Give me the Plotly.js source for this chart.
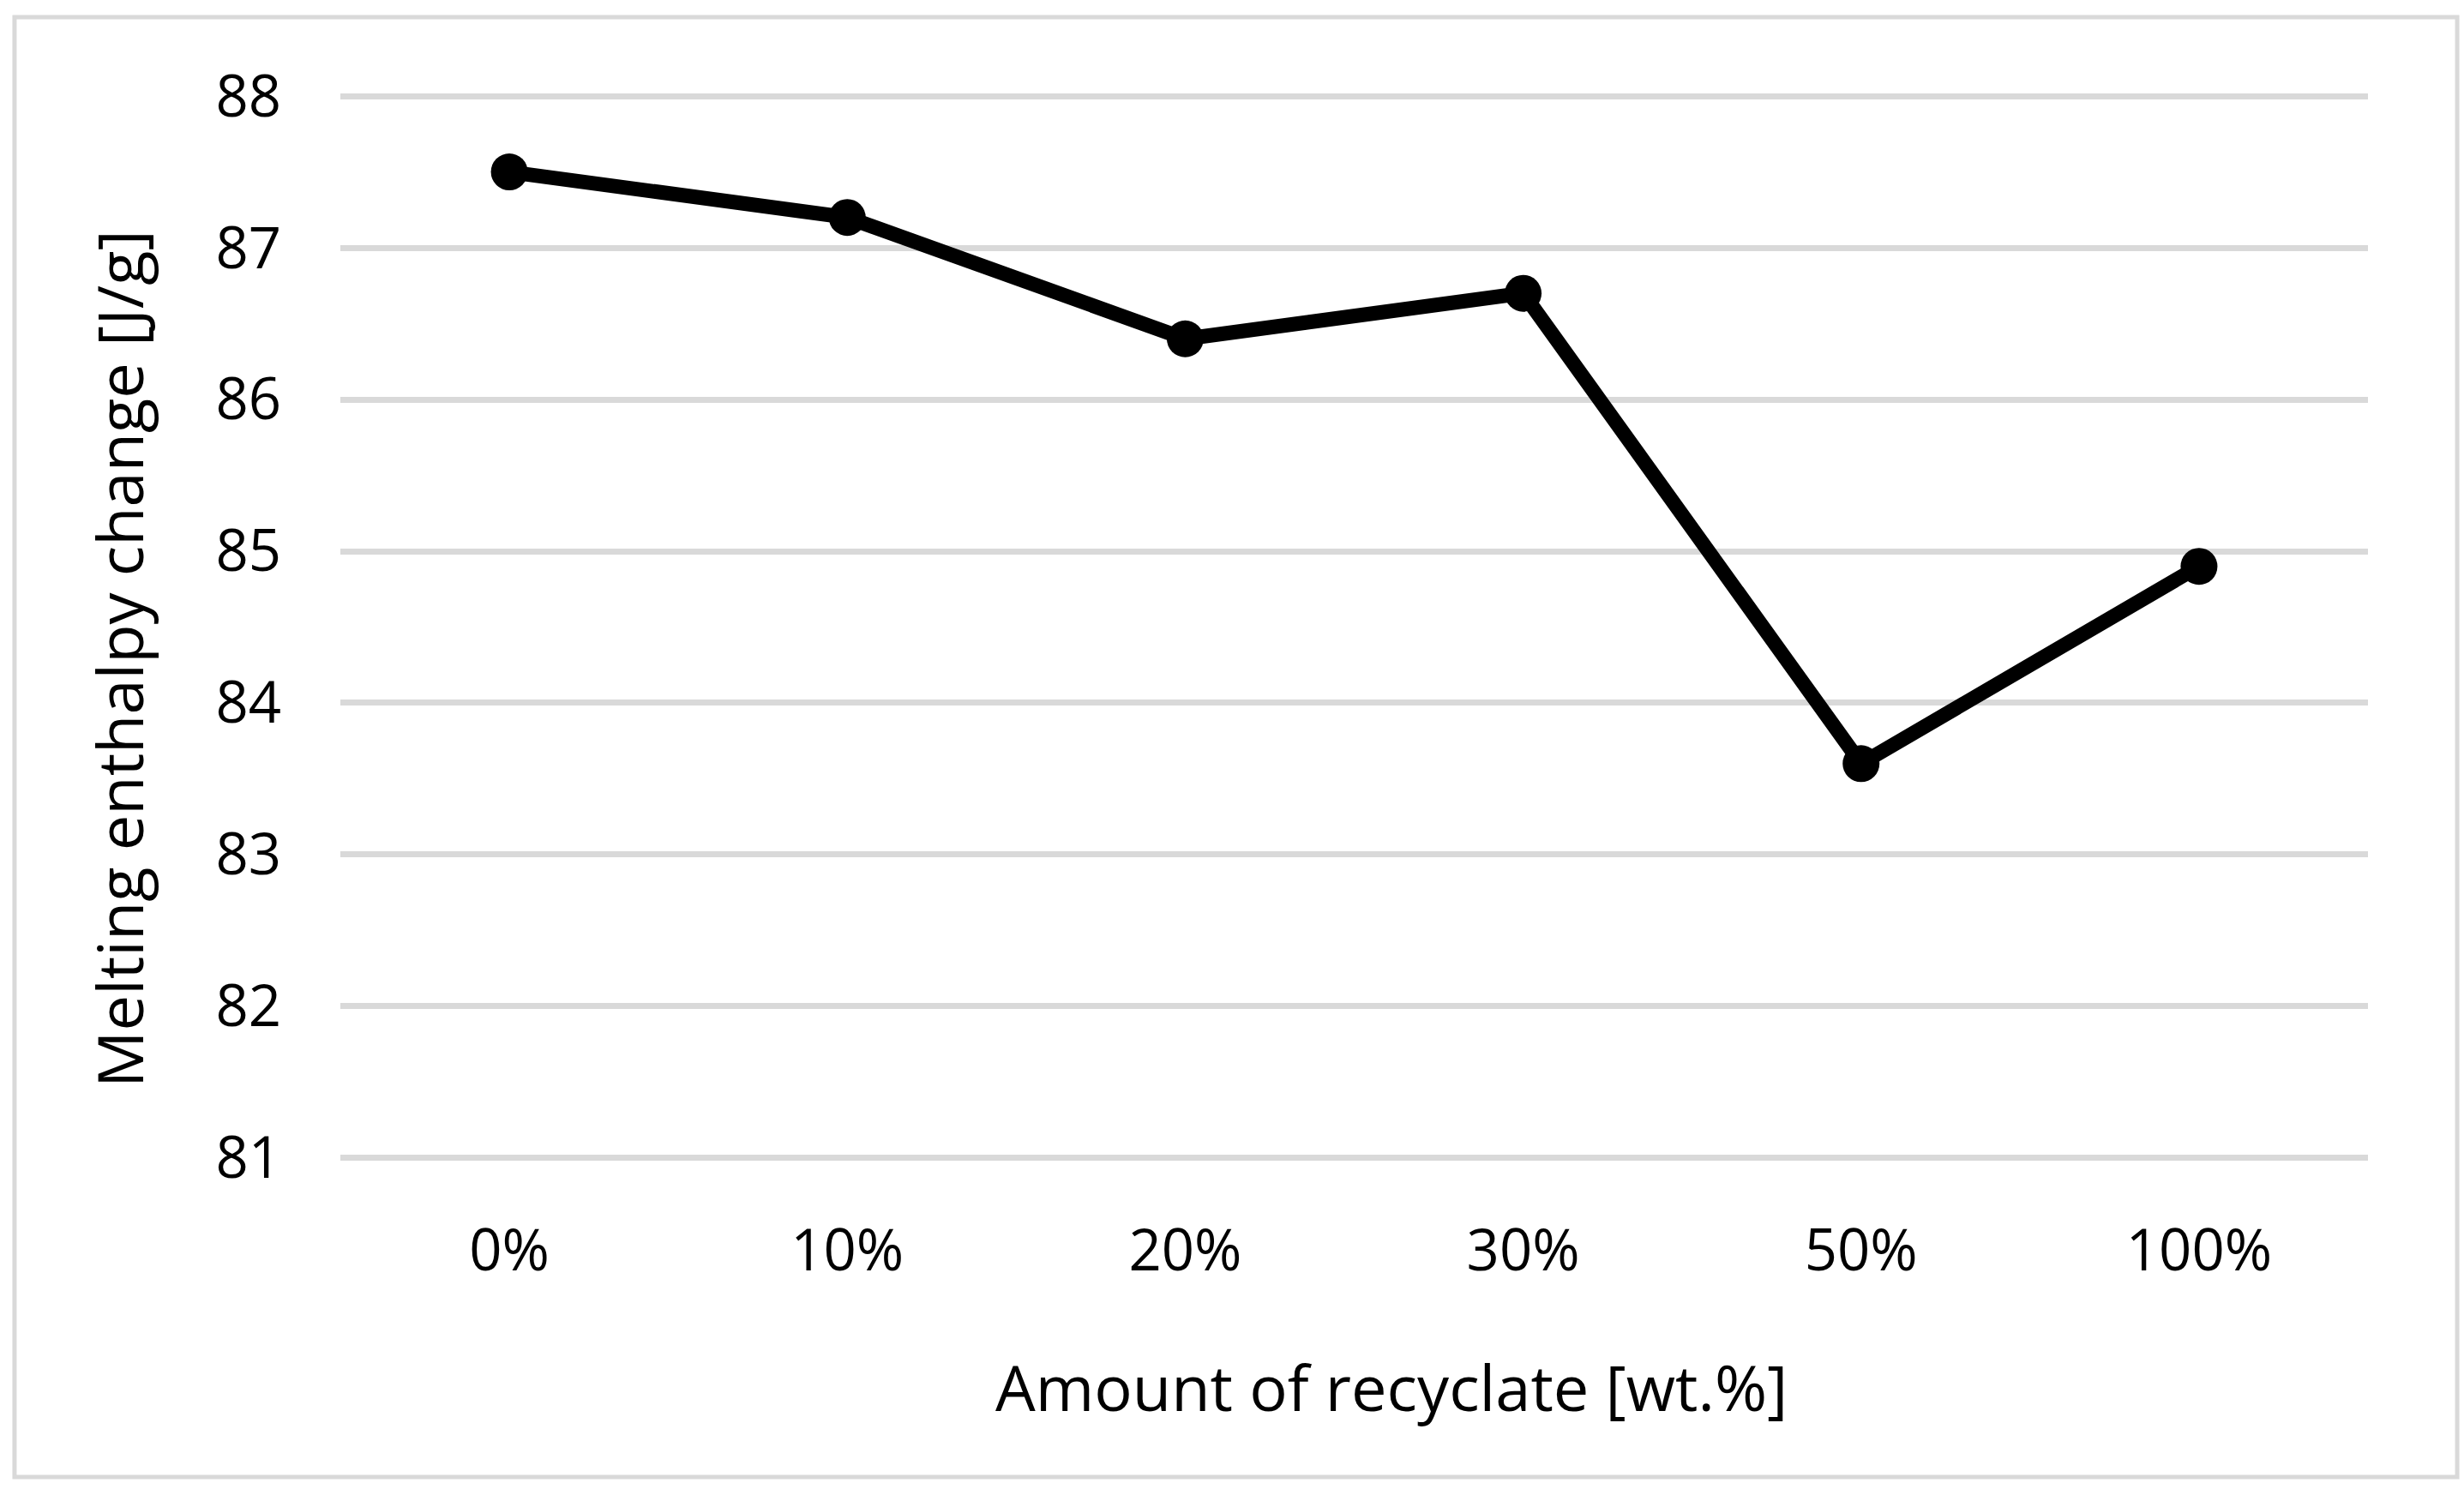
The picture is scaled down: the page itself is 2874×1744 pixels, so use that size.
<!DOCTYPE html>
<html>
<head>
<meta charset="utf-8">
<script src="https://cdn.plot.ly/plotly-3.0.1.min.js"></script>
<style>
  html, body { margin: 0; padding: 0; background: #fff; }
  #chart { width: 2874px; height: 1744px; }
</style>
</head>
<body>
<div id="chart"></div>
<script>
const categories = ["0%", "10%", "20%", "30%", "50%", "100%"];
const enthalpy = [87.5, 87.2, 86.4, 86.7, 83.6, 84.9];
const yTicks = [81, 82, 83, 84, 85, 86, 87, 88];
const xTitle = "Amount of recyclate [wt.%]";
const yTitle = "Melting enthalpy change [J/g]";

const FONT = '"Open Sans", "Noto Sans", "Liberation Sans", sans-serif';

const trace = {
  type: 'scatter',
  mode: 'lines+markers',
  x: categories,
  y: enthalpy,
  line: { color: '#000000', width: 17 },
  marker: { color: '#000000', size: 43 },
  cliponaxis: false,
  showlegend: false,
  hoverinfo: 'x+y'
};

const layout = {
  width: 2874,
  height: 1744,
  margin: { l: 397, r: 112, t: 105, b: 386, pad: 0 },
  paper_bgcolor: '#ffffff',
  plot_bgcolor: '#ffffff',
  font: { family: FONT, color: '#000000', size: 67 },
  xaxis: {
    type: 'category',
    range: [-0.5, 5.5],
    showgrid: false,
    zeroline: false,
    showline: false,
    ticks: '',
    ticklabelstandoff: 56,
    tickfont: { family: FONT, size: 67, color: '#000000' }
  },
  yaxis: {
    range: [80.96, 88.04],
    tickvals: yTicks,
    ticktext: yTicks.map(String),
    showgrid: true,
    gridcolor: '#d9d9d9',
    gridwidth: 7,
    zeroline: false,
    showline: false,
    ticks: '',
    ticklabelstandoff: 68,
    tickfont: { family: FONT, size: 67, color: '#000000' }
  },
  annotations: [
    {
      text: xTitle,
      xref: 'paper', yref: 'paper',
      x: 0.5184, y: -0.2075,
      xanchor: 'center', yanchor: 'middle',
      showarrow: false,
      font: { family: FONT, size: 74, color: '#000000' }
    },
    {
      text: yTitle,
      xref: 'paper', yref: 'paper',
      x: -0.1091, y: 0.4709,
      xanchor: 'center', yanchor: 'middle',
      textangle: -90,
      showarrow: false,
      font: { family: FONT, size: 74, color: '#000000' }
    }
  ],
  shapes: [
    {
      type: 'rect',
      xref: 'paper', yref: 'paper',
      x0: -0.1607, x1: 1.0440,
      y0: -0.2913, y1: 1.0678,
      line: { color: '#d9d9d9', width: 5 },
      fillcolor: 'rgba(0,0,0,0)',
      layer: 'below'
    }
  ]
};

Plotly.newPlot('chart', [trace], layout, { displayModeBar: false, staticPlot: true });
</script>
</body>
</html>
